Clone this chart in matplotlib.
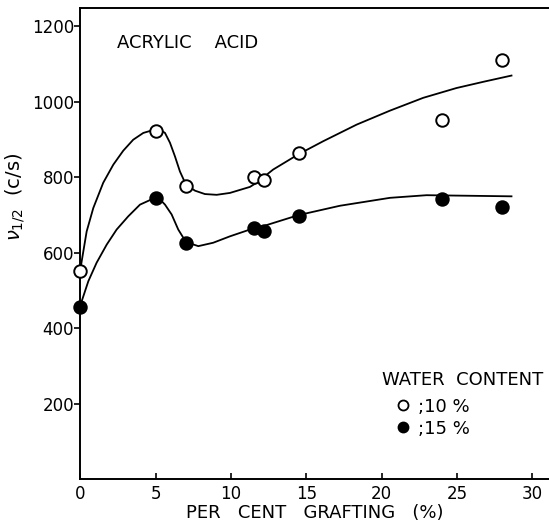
import matplotlib.pyplot as plt
from matplotlib.lines import Line2D

# measured points (per cent grafting, half-width c/s)
grafting = [0.0, 5.0, 7.0, 11.5, 12.2, 14.5, 24.0, 28.0]
water10 = [550, 923, 777, 800, 791, 864, 952, 1109]
water15 = [456, 745, 626, 665, 658, 698, 742, 720]

# hand-drawn curves
curve10_x = [0.0, 0.08, 0.41, 0.85, 1.51, 2.18, 2.84, 3.50, 4.17, 4.94, 5.30, 5.61,
             5.94, 6.27, 6.60, 7.0, 7.60, 8.26, 9.04, 9.92, 11.25, 11.69, 12.79,
             14.45, 16.11, 18.33, 20.54, 22.75, 24.96, 26.8, 28.61]
curve10_y = [556, 577, 656, 718, 785, 833, 870, 899, 917, 926, 925, 917,
             891, 855, 815, 780, 764, 755, 753, 758, 774, 785, 820,
             860, 895, 939, 976, 1010, 1036, 1053, 1069]
curve15_x = [0.0, 0.08, 0.52, 1.07, 1.74, 2.40, 3.17, 3.95, 4.94, 5.30, 5.61, 6.05,
             6.49, 7.0, 7.82, 8.81, 9.92, 11.25, 12.13, 14.45, 17.22, 20.54,
             22.97, 28.61]
curve15_y = [458, 471, 524, 573, 621, 661, 696, 727, 745, 740, 727, 701,
             661, 628, 617, 626, 643, 661, 670, 699, 724, 745,
             752, 749]

xticks = [0, 5, 10, 15, 20, 25, 30]
yticks = [200, 400, 600, 800, 1000, 1200]
series_labels = [';10 %', ';15 %']

fig = plt.figure(figsize=(5.49, 5.27), dpi=100)
ax = fig.add_axes([0.1466, 0.0911, 0.8534, 0.8937])

ax.plot(curve10_x, curve10_y, color='black', lw=1.3, zorder=2)
ax.plot(curve15_x, curve15_y, color='black', lw=1.3, zorder=2)
ax.plot(grafting, water10, 'o', ms=9, mfc='white', mec='black', mew=1.4,
        ls='none', zorder=3, clip_on=False)
ax.plot(grafting, water15, 'o', ms=9, mfc='black', mec='black', mew=1.4,
        ls='none', zorder=3, clip_on=False)

ax.set_xlim(0, 31.1)
ax.set_ylim(0, 1248)
ax.set_xticks(xticks)
ax.set_yticks(yticks)
ax.spines['right'].set_visible(False)
for s in ['left', 'bottom', 'top']:
    ax.spines[s].set_linewidth(1.4)
ax.tick_params(axis='x', direction='in', length=4, width=1.2, labelsize=12, pad=4)
ax.tick_params(axis='y', direction='out', length=4, width=1.2, labelsize=12, pad=0.5)

ax.set_xlabel('PER   CENT   GRAFTING   (%)', fontsize=13, labelpad=1)
ax.set_ylabel(r'$\nu_{1/2}$  (c/s)', fontsize=14)
ax.yaxis.set_label_coords(-0.114, 0.60)

ax.text(2.42, 1155, 'ACRYLIC    ACID', fontsize=13, va='center', ha='left')

# legend
ax.text(0.643, 262, 'WATER  CONTENT', transform=ax.get_yaxis_transform(),
        fontsize=13, va='center', ha='left')
handles = [Line2D([], [], marker='o', ls='none', ms=7.2, mfc='white', mec='black', mew=1.3),
           Line2D([], [], marker='o', ls='none', ms=7.2, mfc='black', mec='black', mew=1.3)]
leg = ax.legend(handles, series_labels, frameon=False, fontsize=13,
                loc='upper left', bbox_to_anchor=(394.3 / 549, 1 - 397.8 / 527),
                bbox_transform=fig.transFigure, borderpad=0, borderaxespad=0,
                handlelength=1.0, handletextpad=0.32, labelspacing=0.22)

fig.savefig('out.png', dpi=100)
